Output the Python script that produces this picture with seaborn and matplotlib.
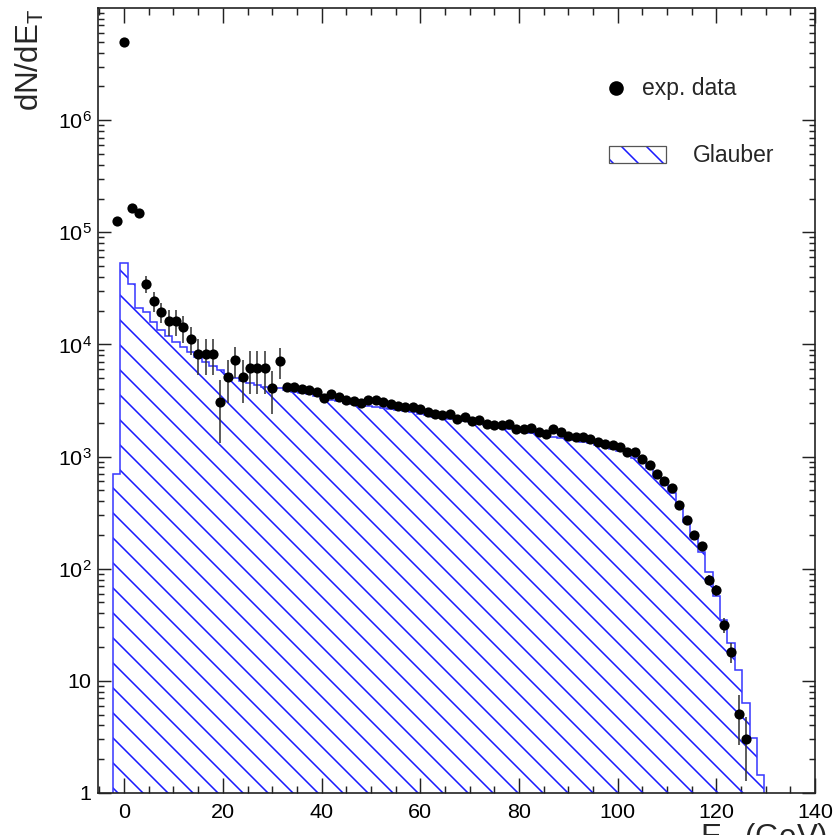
import numpy as np
import pandas as pd
import matplotlib
matplotlib.use("Agg")
import matplotlib.pyplot as plt
import seaborn as sns
from matplotlib.patches import Rectangle
from matplotlib.ticker import FixedLocator, NullFormatter, MultipleLocator

# ---------------- data ----------------
et_points = [-1.5, 0, 1.5, 3, 4.5, 6, 7.5, 9, 10.5, 12, 13.5, 15, 16.5, 18, 19.5, 21, 22.5, 24,
             25.5, 27, 28.5, 30, 31.5, 33, 34.5, 36, 37.5, 39, 40.5, 42, 43.5, 45, 46.5, 48,
             49.5, 51, 52.5, 54, 55.5, 57, 58.5, 60, 61.5, 63, 64.5, 66, 67.5, 69, 70.5, 72,
             73.5, 75, 76.5, 78, 79.5, 81, 82.5, 84, 85.5, 87, 88.5, 90, 91.5, 93, 94.5, 96,
             97.5, 99, 100.5, 102, 103.5, 105, 106.5, 108, 109.5, 111, 112.5, 114, 115.5, 117,
             118.5, 120, 121.5, 123, 124.5, 126]
dn_points = [1.26e5, 5.0e6, 1.66e5, 1.5e5,
             3.45e4, 2.45e4, 1.95e4, 1.62e4, 1.62e4, 1.42e4, 1.12e4, 8.2e3, 8.2e3, 8.2e3,
             3.08e3, 5.1e3, 7.2e3, 5.1e3, 6.15e3, 6.15e3, 6.15e3, 4.1e3, 7.1e3,
             4.14e3, 4.14e3, 3.97e3, 3.93e3, 3.8e3, 3.3e3, 3.58e3, 3.39e3, 3.19e3, 3.12e3,
             2.98e3, 3.19e3, 3.19e3, 3.04e3, 2.93e3, 2.84e3, 2.76e3, 2.76e3, 2.65e3, 2.5e3,
             2.39e3, 2.34e3, 2.39e3, 2.16e3, 2.27e3, 2.07e3, 2.12e3, 1.95e3, 1.91e3, 1.91e3,
             1.95e3, 1.76e3, 1.76e3, 1.78e3, 1.64e3, 1.59e3, 1.75e3, 1.64e3, 1.53e3, 1.48e3,
             1.48e3, 1.42e3, 1.34e3, 1.29e3, 1.27e3, 1.21e3, 1.1e3, 1.1e3, 944, 840,
             693, 608, 520, 369, 272, 198, 159, 80, 64.5, 31.5, 18.2, 5.06, 3.03]
dn_errors = [0, 0, 0, 0,
             6000, 5000, 4000, 4200, 4200, 3800, 3200, 2900, 2900, 2900, 1750, 2100, 2200, 2100,
             2500, 2500, 2500, 1700, 2200,
             80, 80, 80, 80, 75, 65, 70, 68, 64, 62,
             60, 64, 64, 61, 59, 57, 55, 55, 53, 50,
             48, 47, 48, 43, 45, 41, 42, 39, 38, 38,
             39, 35, 35, 36, 33, 32, 35, 33, 31, 30,
             30, 28, 27, 26, 25, 24, 22, 22, 19, 17,
             15, 13, 12, 10, 9, 8, 9, 8, 7, 4.6, 3.7, 2.4, 1.75]

glauber_centers = et_points + [127.5, 129]
glauber_counts = [700, 5.3e4, 3.45e4, 2.1e4, 1.95e4, 1.57e4, 1.35e4, 1.2e4, 1.05e4, 9.5e3,
                  8.6e3, 7.8e3, 7.0e3, 6.4e3, 5.9e3, 5.4e3, 5.0e3, 4.7e3, 4.5e3, 4.35e3,
                  4.2e3, 4.1e3, 4.05e3,
                  3.95e3, 3.8e3, 3.7e3, 3.6e3, 3.5e3, 3.3e3, 3.2e3, 3.1e3, 3.0e3, 2.95e3,
                  2.88e3, 2.8e3, 2.75e3, 2.7e3, 2.65e3, 2.6e3, 2.55e3, 2.48e3, 2.4e3, 2.33e3,
                  2.27e3, 2.22e3, 2.16e3, 2.1e3, 2.06e3, 2.02e3, 1.98e3, 1.92e3, 1.86e3, 1.8e3,
                  1.75e3, 1.7e3, 1.66e3, 1.62e3, 1.59e3, 1.55e3, 1.51e3, 1.47e3, 1.43e3, 1.40e3,
                  1.36e3, 1.32e3, 1.27e3, 1.22e3, 1.17e3, 1.12e3, 1.05e3, 980, 900, 790,
                  660, 560, 470, 360, 260, 190, 142, 93, 57, 35,
                  21.6, 12.5, 6.3, 3.1, 1.45]
bin_width = 1.5

x_ticks = [0, 20, 40, 60, 80, 100, 120, 140]
y_ticks = [1, 10, 1e2, 1e3, 1e4, 1e5, 1e6]
y_tick_labels = ["1", "10", r"$\mathregular{10^{2}}$", r"$\mathregular{10^{3}}$",
                 r"$\mathregular{10^{4}}$", r"$\mathregular{10^{5}}$", r"$\mathregular{10^{6}}$"]

# ---------------- style ----------------
DPI = 150
sns.set_style("ticks")
plt.rcParams["font.family"] = ["Liberation Sans", "DejaVu Sans"]
plt.rcParams["mathtext.fontset"] = "custom"
plt.rcParams["mathtext.rm"] = "Liberation Sans"
plt.rcParams["mathtext.it"] = "Liberation Sans:italic"
plt.rcParams["hatch.linewidth"] = 0.75
plt.rcParams["hatch.color"] = "#1a1aff"

HATCH = "\\\\"

W, H = 834, 835
fig = plt.figure(figsize=(W / DPI, H / DPI), dpi=DPI)
fig.patch.set_facecolor("white")
L, R, T, B = 98, 815, 8, 793
ax = fig.add_axes([L / W, 1 - B / H, (R - L) / W, (B - T) / H])
ax.set_facecolor("white")
ax.set_yscale("log")

df_pts = pd.DataFrame({"et": et_points, "dn": dn_points, "err": dn_errors})
centers = np.array(glauber_centers)
edges = np.append(centers - bin_width / 2, centers[-1] + bin_width / 2)
counts = np.array(glauber_counts)

# Glauber hatched histogram
ax.stairs(counts, edges, baseline=0.1, fill=True, facecolor="none",
          edgecolor="#1a1aff", hatch=HATCH, linewidth=0, zorder=1)
ax.stairs(counts, edges, baseline=0.1, fill=False, color="#3a3aff",
          linewidth=0.75, zorder=2)

# experimental data
ax.errorbar(df_pts["et"], df_pts["dn"], yerr=df_pts["err"], fmt="none",
            ecolor="#333333", elinewidth=0.75, capsize=0, zorder=3)
sns.scatterplot(data=df_pts, x="et", y="dn", ax=ax, color="black", s=24,
                edgecolor="black", linewidth=0, zorder=4, legend=False)

ax.set_xlim(-5.3, 140)
ax.set_ylim(1, 1e7)
ax.set_xlabel("")
ax.set_ylabel("")

ax.xaxis.set_major_locator(FixedLocator(x_ticks))
ax.xaxis.set_minor_locator(MultipleLocator(5))
ax.set_xticklabels([str(t) for t in x_ticks])
ax.yaxis.set_major_locator(FixedLocator(y_ticks))
minor_y = [m * 10 ** e for e in range(0, 7) for m in range(2, 10)]
ax.yaxis.set_minor_locator(FixedLocator(minor_y))
ax.yaxis.set_minor_formatter(NullFormatter())
ax.set_yticklabels(y_tick_labels)

ax.tick_params(axis="both", which="both", direction="in", top=True, right=True,
               colors="#222222", width=0.7, labelcolor="black")
ax.tick_params(axis="x", which="major", length=7.0, pad=5, labelsize=10.3)
ax.tick_params(axis="x", which="minor", length=3.4)
ax.tick_params(axis="y", which="major", length=6.2, pad=3, labelsize=10.3)
ax.tick_params(axis="y", which="minor", length=3.0)
for sp in ax.spines.values():
    sp.set_color("#222222")
    sp.set_linewidth(0.8)

# axis titles (ROOT style; the x title sits at the lower edge as in the original)
fig.text(30 / W, 1 - 9 / H, r"dN/dE$_{\mathregular{T}}$", rotation=90,
         ha="center", va="top", fontsize=15)
fig.text(700 / W, 1 - 821 / H, r"E$_{\mathregular{T}}$ (GeV)", ha="left", va="top",
         fontsize=15)

# legend (manual, ROOT style)
def axfrac(px, py):
    return (px - L) / (R - L), (B - py) / (B - T)

mx, my = axfrac(616, 88)
ax.plot([mx], [my], "o", color="black", ms=6.0, transform=ax.transAxes, zorder=5)
tx, ty = axfrac(642, 89)
ax.text(tx, ty, "exp. data", transform=ax.transAxes, ha="left", va="center", fontsize=11)
rx0, ry1 = axfrac(609, 146)
rx1, ry0 = axfrac(666, 163)
ax.add_patch(Rectangle((rx0, ry0), rx1 - rx0, ry1 - ry0, transform=ax.transAxes,
                       facecolor="none", edgecolor="#1a1aff", hatch=HATCH, linewidth=0,
                       zorder=5))
ax.add_patch(Rectangle((rx0, ry0), rx1 - rx0, ry1 - ry0, transform=ax.transAxes,
                       facecolor="none", edgecolor="#555555", linewidth=0.6, zorder=6))
gx, gy = axfrac(693, 155)
ax.text(gx, gy, "Glauber", transform=ax.transAxes, ha="left", va="center", fontsize=11)

fig.savefig("out.png", dpi=DPI, facecolor="white")
